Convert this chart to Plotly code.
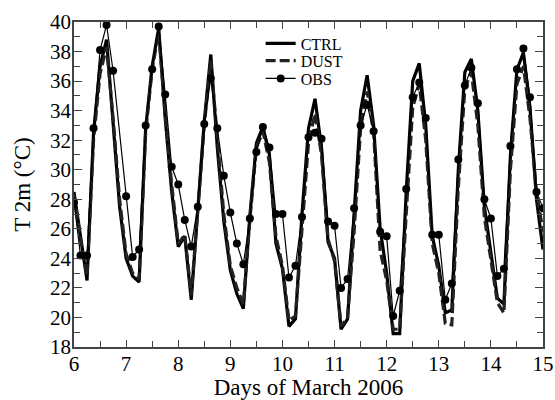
import plotly.graph_objects as go

# 3-hourly time axis, days of March 2006
days = [6 + i / 8 for i in range(73)]

ctrl = [28.5, 25.5, 22.5, 32.5, 37.0, 38.8, 33.0, 27.5,
        24.0, 22.8, 22.4, 32.8, 37.0, 39.6, 33.5, 28.5,
        24.8, 25.5, 21.2, 27.5, 33.3, 37.8, 31.5, 26.5,
        23.2, 21.6, 20.6, 26.9, 31.8, 32.9, 31.0, 25.0,
        23.3, 19.4, 19.9, 27.0, 32.8, 34.8, 31.5, 25.1,
        24.0, 19.2, 19.9, 27.0, 34.0, 36.4, 33.0, 26.0,
        23.0, 18.9, 18.9, 28.5, 36.0, 37.2, 33.0, 25.5,
        23.5, 20.3, 20.5, 30.0, 36.6, 37.5, 34.0, 27.5,
        24.5, 21.3, 20.9, 31.0, 36.8, 37.9, 34.2, 28.0,
        24.6]

dust = [28.3, 25.3, 22.8, 32.0, 36.5, 38.3, 33.5, 28.0,
        24.3, 23.0, 22.6, 32.5, 36.8, 39.3, 33.8, 29.0,
        25.0, 25.6, 21.5, 27.3, 33.0, 37.4, 32.0, 27.0,
        23.5, 22.0, 20.9, 26.6, 31.5, 32.6, 30.5, 25.5,
        23.5, 19.8, 20.1, 26.0, 31.8, 33.8, 31.0, 25.3,
        23.8, 19.4, 20.0, 25.8, 32.8, 35.3, 32.5, 24.5,
        22.5, 19.2, 19.2, 27.0, 34.2, 35.8, 32.0, 25.0,
        23.0, 19.6, 19.5, 28.8, 35.5, 36.6, 33.0, 26.8,
        24.0, 21.0, 20.3, 30.0, 35.8, 37.0, 33.5, 28.5,
        25.8]

obs = [27.8, 24.2, 24.2, 32.8, 38.1, 39.8, 36.7, None,
       28.2, 24.1, 24.6, 33.0, 36.8, 39.7, 35.1, 30.2,
       29.0, 26.6, 24.8, 27.5, 33.1, 36.2, 32.8, 29.6,
       27.1, 25.0, 23.6, 26.7, 31.2, 32.9, 31.5, 27.0,
       27.0, 22.7, 23.5, 26.8, 32.2, 32.5, 32.1, 26.5,
       26.2, 22.0, 22.6, 27.4, 33.0, 34.4, 32.6, 25.8,
       25.5, 20.1, 21.8, 28.7, 34.9, 35.9, 33.5, 25.6,
       25.6, 21.2, 22.3, 30.7, 35.7, 36.9, 34.5, 28.0,
       26.7, 22.8, 23.3, 31.6, 36.8, 38.2, 34.9, 28.5,
       27.4]

x_ticks = list(range(6, 16))
y_ticks = list(range(18, 41, 2))

FONT = "Liberation Serif, Times New Roman, serif"

fig = go.Figure()
fig.add_trace(go.Scatter(x=days, y=ctrl, name="CTRL", mode="lines",
                         legend="legend",
                         line=dict(color="black", width=3.2)))
fig.add_trace(go.Scatter(x=days, y=dust, name="DUST", mode="lines",
                         legend="legend2",
                         line=dict(color="#222222", width=3.2, dash="10px,4px")))
fig.add_trace(go.Scatter(x=days, y=obs, name="OBS", mode="lines+markers",
                         legend="legend3", connectgaps=True,
                         line=dict(color="black", width=1.2),
                         marker=dict(color="black", size=8)))

axis_common = dict(showline=True, linecolor="#444444", linewidth=1.5,
                   mirror="allticks", ticks="inside", tickcolor="#444444",
                   tickwidth=1.3, showgrid=False, zeroline=False,
                   automargin=False, ticklabelstandoff=-3,
                   tickfont=dict(family=FONT, size=21, color="black"))

fig.update_xaxes(range=[6, 15], tickvals=x_ticks, ticklen=7,
                 minor=dict(dtick=0.5, tick0=6, ticks="inside", ticklen=6,
                            tickcolor="#444444", tickwidth=1.3),
                 title=dict(text="Days of March 2006",
                            font=dict(family=FONT, size=23, color="black"),
                            standoff=7),
                 **axis_common)
fig.update_yaxes(range=[18, 40], tickvals=y_ticks, ticklen=8,
                 minor=dict(dtick=1, tick0=18, ticks="inside", ticklen=6,
                            tickcolor="#444444", tickwidth=1.3),
                 title=dict(text="T 2m (°C)",
                            font=dict(family=FONT, size=23, color="black"),
                            standoff=13),
                 **axis_common)

leg_common = dict(x=0.398, xanchor="left", yanchor="middle",
                  bgcolor="rgba(0,0,0,0)", borderwidth=0,
                  font=dict(family=FONT, size=16, color="black"))

fig.update_layout(
    width=555, height=400,
    margin=dict(l=74, r=12, t=22, b=53),
    paper_bgcolor="white", plot_bgcolor="white",
    showlegend=True,
    legend=dict(y=0.934, **leg_common),
    legend2=dict(y=0.881, **leg_common),
    legend3=dict(y=0.826, **leg_common),
)

fig.write_html("out.html",
               config={"displayModeBar": False},
               post_script="document.body.style.margin='0';"
                           "document.body.style.overflow='hidden';")
